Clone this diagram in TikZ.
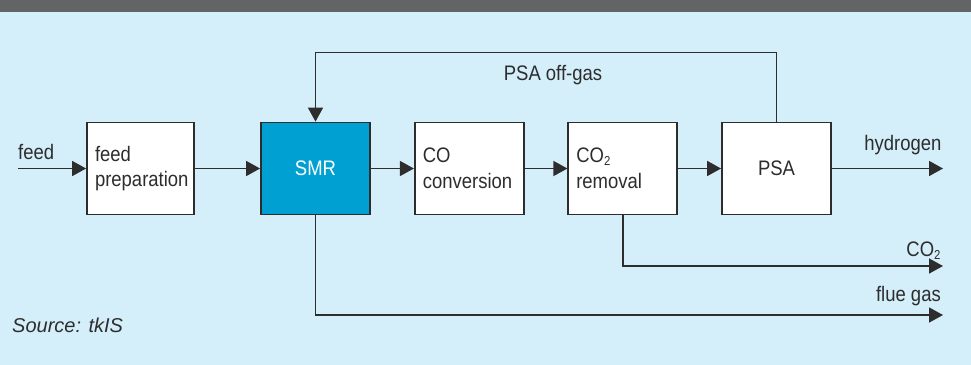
\documentclass[tikz,border=0pt]{standalone}
\usepackage{fontspec}
\setmainfont[FakeStretch=0.88]{Liberation Sans}
\newfontfamily\srcfont{Liberation Sans}
\usetikzlibrary{positioning}
\usetikzlibrary{arrows.meta}
\definecolor{bgblue}{RGB}{212,238,250}
\definecolor{smrblue}{RGB}{0,160,210}
\definecolor{bannergray}{RGB}{99,100,102}
\definecolor{linegray}{RGB}{45,45,45}
\newcommand{\lowtwo}{\raisebox{-0.25ex}{\fontsize{13}{13}\selectfont 2}}
\tikzset{
  unit/.style={draw=linegray,line width=1.8bp,fill=white,minimum width=109bp,minimum height=92bp,
    inner xsep=8bp,text width=93bp,align=left,text=linegray,font=\fontsize{21bp}{25.5bp}\selectfont},
  flow/.style={draw=linegray,line width=1.6bp,-{Triangle[length=14bp,width=15bp]}},
  lbl/.style={text=linegray,inner sep=0pt,font=\fontsize{21bp}{25.5bp}\selectfont},
}

\begin{document}
\begin{tikzpicture}[x=1bp,y=-1bp]
\useasboundingbox (0,0) rectangle (971,364);
\fill[bgblue] (-6,-6) rectangle (977,370);
\fill[bannergray] (-6,-6) rectangle (977,12);

% process units
\node[unit,minimum width=107bp,text width=91bp] (prep) at (140.5,168.5) {feed\\preparation};
\node[unit,fill=smrblue,text=white,align=center] (smr) at (315.5,168.5) {SMR};
\node[unit] (conv) at (469.3,168.5) {CO\\conversion};
\node[unit] (removal) at (622.8,168.5) {CO\lowtwo\\removal};
\node[unit,align=center] (psa) at (776.5,168.5) {PSA};

% free ends
\coordinate (feedin) at (18,168.5);
\coordinate (h2out) at (943,168.5);
\coordinate (offtop) at (545,52.5);
\coordinate (co2out) at (943,266);
\coordinate (flueout) at (943,315);

% streams
\draw[flow] (feedin) -- (prep);
\draw[flow] (prep) -- (smr);
\draw[flow] (smr) -- (conv);
\draw[flow] (conv) -- (removal);
\draw[flow] (removal) -- (psa);
\draw[flow] (psa) -- (h2out);
\draw[flow] (psa.north) |- (offtop) -| (smr.north);
\draw[flow] (removal.south) |- (co2out);
\draw[flow] (smr.south) |- (flueout);

% labels
\node[lbl,anchor=base west] (feedlbl) at (18,159.5) {feed};
\node[lbl,anchor=base] (offlbl) at (553,80.7) {PSA off-gas};
\node[lbl,anchor=base east] (h2lbl) at (941.7,150.7) {hydrogen};
\node[lbl,anchor=base east] (co2lbl) at (940.7,256.5) {CO\lowtwo};
\node[lbl,anchor=base east] (fluelbl) at (941,301.7) {flue gas};
\node[lbl,anchor=base west,font=\srcfont\itshape\fontsize{20bp}{24bp}\selectfont] (src) at (12,332.7) {Source: tkIS};
\end{tikzpicture}
\end{document}
